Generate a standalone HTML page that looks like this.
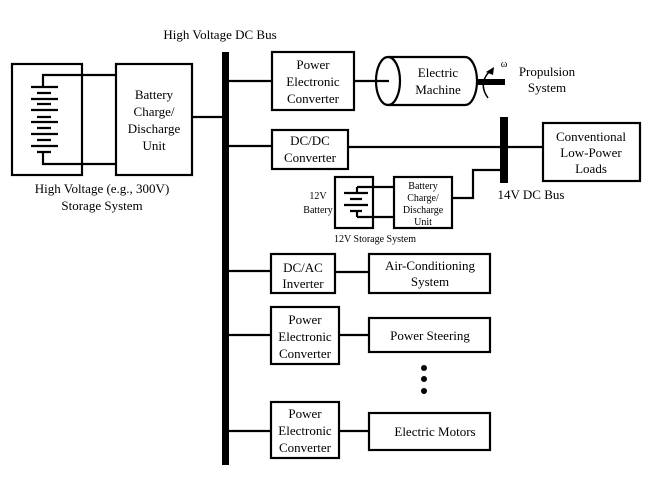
<!DOCTYPE html>
<html><head><style>
html,body{margin:0;padding:0;background:#fff}
svg{display:block}
text{font-family:"Liberation Serif",serif;fill:#000;text-anchor:middle}
</style></head><body>
<svg width="667" height="480" viewBox="0 0 667 480" xmlns="http://www.w3.org/2000/svg">
<g fill="none" stroke="#000" stroke-width="2.2">
<rect x="12" y="64" width="70" height="111"/>
<rect x="116" y="64" width="76" height="111"/>
<path d="M43 86V75H116M43 152V164H116"/>
<path d="M31 87H58M31 99H58M31 110H58M31 122H58M31 134H58M31 146H58" />
<path d="M37 93H51M37 104H51M37 117H51M37 128H51M37 140H51M37 152H51"/>
<path d="M192 117H222"/>
<path d="M229 81H272M229 146H272M229 271H271M229 335H271M229 431H271"/>
<rect x="272" y="52" width="82" height="58"/>
<rect x="272" y="130" width="76" height="39"/>
<path d="M348 147H500M508 147H543M354 81H389"/>
<path d="M388 57H465A12 24 0 0 1 465 105H388"/>
<ellipse cx="388" cy="81" rx="12" ry="24"/>
<rect x="543" y="123" width="97" height="58"/>
<rect x="335" y="177" width="38" height="51"/>
<rect x="394" y="177" width="58" height="51"/>
<path d="M357 187H394M357 217H394M357 187V193M357 211V217"/>
<path d="M344 193H368M350 199H362M344 205H368M350 211H362"/>
<path d="M452 198H473V170H500"/>
<rect x="271" y="254" width="64" height="39"/>
<rect x="369" y="254" width="121" height="39"/>
<path d="M335 272H369M339 335H369M339 431H369"/>
<rect x="271" y="307" width="68" height="57"/>
<rect x="369" y="318" width="121" height="34"/>
<rect x="271" y="402" width="68" height="56"/>
<rect x="369" y="413" width="121" height="37"/>
<path d="M488 98Q478 84 489 72" stroke-width="1.5"/>
</g>
<rect x="222" y="52" width="7" height="413" fill="#000"/>
<rect x="500" y="117" width="8" height="66" fill="#000"/>
<rect x="477" y="79" width="28" height="6" fill="#000"/>
<path d="M486 72l8-5-1 8z" fill="#000"/>
<circle cx="424" cy="368" r="3" fill="#000"/>
<circle cx="424" cy="379" r="3" fill="#000"/>
<circle cx="424" cy="391" r="3" fill="#000"/>
<g font-size="13">
<text x="220" y="39">High Voltage DC Bus</text>
<text x="154" y="99">Battery</text>
<text x="154" y="116">Charge/</text>
<text x="154" y="133">Discharge</text>
<text x="154" y="150">Unit</text>
<text x="102" y="193">High Voltage (e.g., 300V)</text>
<text x="102" y="210">Storage System</text>
<text x="313" y="69">Power</text>
<text x="313" y="86">Electronic</text>
<text x="313" y="103">Converter</text>
<text x="438" y="77">Electric</text>
<text x="438" y="94">Machine</text>
<text x="547" y="76">Propulsion</text>
<text x="547" y="92">System</text>
<text x="310" y="145">DC/DC</text>
<text x="310" y="162">Converter</text>
<text x="591" y="141">Conventional</text>
<text x="591" y="157">Low-Power</text>
<text x="591" y="173">Loads</text>
<text x="531" y="199">14V DC Bus</text>
<text x="303" y="272">DC/AC</text>
<text x="303" y="288">Inverter</text>
<text x="430" y="270">Air-Conditioning</text>
<text x="430" y="286">System</text>
<text x="305" y="324">Power</text>
<text x="305" y="341">Electronic</text>
<text x="305" y="358">Converter</text>
<text x="430" y="340">Power Steering</text>
<text x="305" y="418">Power</text>
<text x="305" y="435">Electronic</text>
<text x="305" y="452">Converter</text>
<text x="435" y="436">Electric Motors</text>
</g>
<g font-size="10">
<text x="504" y="67">ω</text>
<text x="318" y="199">12V</text>
<text x="318" y="213">Battery</text>
<text x="423" y="189">Battery</text>
<text x="423" y="201">Charge/</text>
<text x="423" y="213">Discharge</text>
<text x="423" y="225">Unit</text>
<text x="375" y="242">12V Storage System</text>
</g>
</svg>
</body></html>
